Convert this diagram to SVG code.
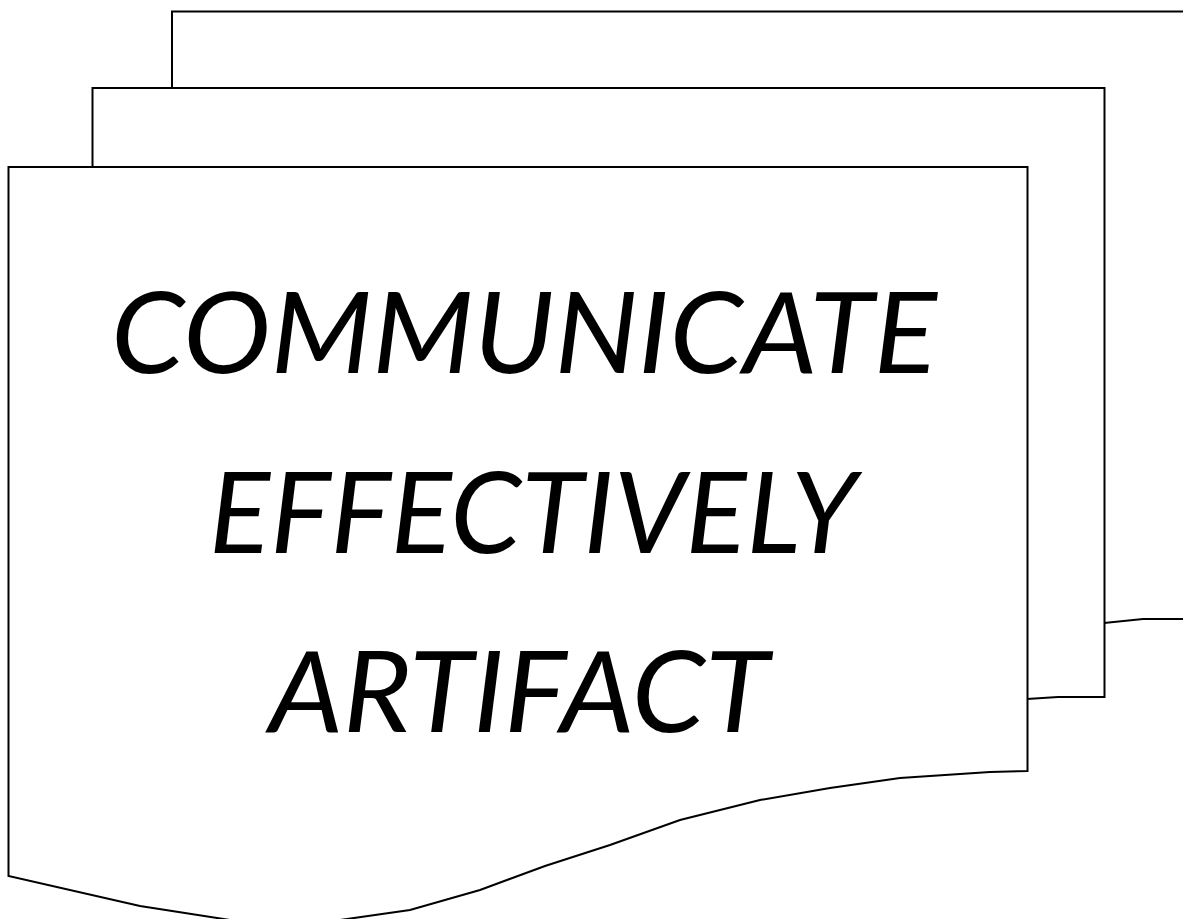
<svg xmlns="http://www.w3.org/2000/svg" width="1183" height="919" viewBox="0 0 1183 919">
<style>
.page{fill:#ffffff;stroke:#000000;stroke-width:2;stroke-linejoin:miter}
.lbl{font-family:"Lato","Liberation Sans",sans-serif;font-style:italic;font-size:112px;fill:#000000;text-anchor:middle}
</style>
<rect width="1183" height="919" fill="#ffffff"/>
<g id="page-back">
<path class="page" d="M172,11.5 H1195 V619 L1143,619 L1104,623 L1020,630 L940,645 L840,672 L760,700 L650,730 L580,742 L420,752 L300,742 L172,712 Z"/>
</g>
<g id="page-middle">
<path class="page" d="M92.5,88 H1104.5 V697 L1058,697 L1027,699 L960,703 L860,720 L760,745 L680,772 L610,795 L545,816 L490,832 L420,840 L360,845 L310,842 L220,828 L92.5,798 Z"/>
</g>
<g id="page-front">
<path class="page" d="M8.5,167 H1027.5 V771 L990,772 L900,778 L830,788 L760,800 L680,820 L610,845 L545,866 L480,890 L410,910 L340,920 L290,924 L230,920 L140,906 L8.5,876 Z"/>
<text class="lbl" x="524" y="373" textLength="826" lengthAdjust="spacingAndGlyphs">COMMUNICATE</text>
<text class="lbl" x="533" y="553" textLength="648" lengthAdjust="spacingAndGlyphs">EFFECTIVELY</text>
<text class="lbl" x="519" y="732" textLength="500" lengthAdjust="spacingAndGlyphs">ARTIFACT</text>
</g>
</svg>
